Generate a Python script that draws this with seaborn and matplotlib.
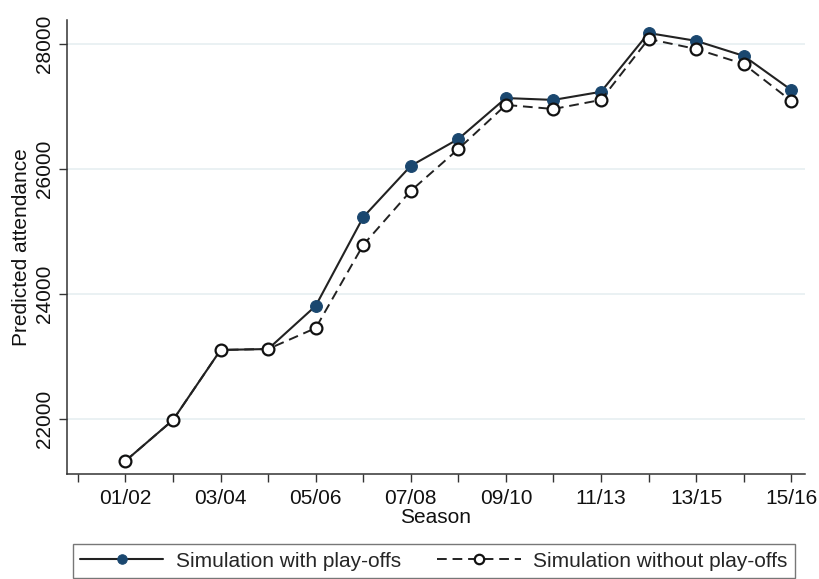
import numpy as np
import pandas as pd
import matplotlib
matplotlib.use("Agg")
import matplotlib.pyplot as plt
import seaborn as sns

# seasons 01/02 .. 15/16 (labels as printed on the original chart)
season_idx = list(range(1, 16))
tick_labels = ["", "01/02", "", "03/04", "", "05/06", "", "07/08", "",
               "09/10", "", "11/13", "", "13/15", "", "15/16"]

with_playoffs = [21330, 21985, 23105, 23120, 23810, 25230, 26050, 26480,
                 27135, 27105, 27235, 28175, 28050, 27810, 27265]
without_playoffs = [21330, 21985, 23105, 23120, 23455, 24785, 25650, 26320,
                    27025, 26960, 27105, 28080, 27920, 27680, 27090]

df = pd.DataFrame({"season": season_idx,
                   "with": with_playoffs,
                   "without": without_playoffs})

sns.set_style("white")
plt.rcParams["font.family"] = ["Liberation Sans", "DejaVu Sans"]

fig = plt.figure(figsize=(8.2, 5.79), dpi=100)
ax = fig.add_axes([0.0817, 0.1813, 0.90, 0.7842])

navy = "#1a476f"
sns.lineplot(data=df, x="season", y="with", ax=ax, color="#222222", lw=1.5,
             marker="o", markersize=8.5, markerfacecolor=navy,
             markeredgecolor=navy, label="Simulation with play-offs")
sns.lineplot(data=df, x="season", y="without", ax=ax, color="#222222", lw=1.4,
             linestyle=(0, (5, 3)), marker="o", markersize=8.5,
             markerfacecolor="white", markeredgecolor="#111111",
             markeredgewidth=1.6, label="Simulation without play-offs")

ax.set_xlim(-0.23, 15.29)
ax.set_ylim(21120, 28384)
ax.set_xticks(range(0, 16))
ax.set_xticklabels(tick_labels, fontsize=15, color="#111111")
ax.set_yticks([22000, 24000, 26000, 28000])
ax.set_yticklabels(["22000", "24000", "26000", "28000"], fontsize=15,
                   rotation=90, va="center", color="#111111")
ax.tick_params(axis="both", direction="out", length=6, width=1,
               color="#333333", bottom=True, left=True)
ax.tick_params(axis="x", pad=5)
ax.tick_params(axis="y", pad=3)

ax.yaxis.grid(True, color="#e6eff1", lw=1.2)
ax.xaxis.grid(False)
for s in ["top", "right"]:
    ax.spines[s].set_visible(False)
for s in ["left", "bottom"]:
    ax.spines[s].set_color("#333333")
    ax.spines[s].set_linewidth(1.1)

ax.set_xlabel("Season", fontsize=15, labelpad=0, color="#111111")
ax.set_ylabel("Predicted attendance", fontsize=15, labelpad=3, color="#111111")

handles, labels = ax.get_legend_handles_labels()
ax.get_legend().remove()
leg = fig.legend(handles, labels, loc="upper left", ncol=2,
                 bbox_to_anchor=(0.076, 0.078, 0.906, 0.0), mode="expand",
                 fontsize=15, frameon=True, fancybox=False, markerscale=0.8,
                 handlelength=4.0, handletextpad=0.6, borderpad=0.35,
                 columnspacing=1.0)
leg.get_frame().set_edgecolor("#555555")
leg.get_frame().set_linewidth(1.0)

fig.savefig("out.png", dpi=100)
